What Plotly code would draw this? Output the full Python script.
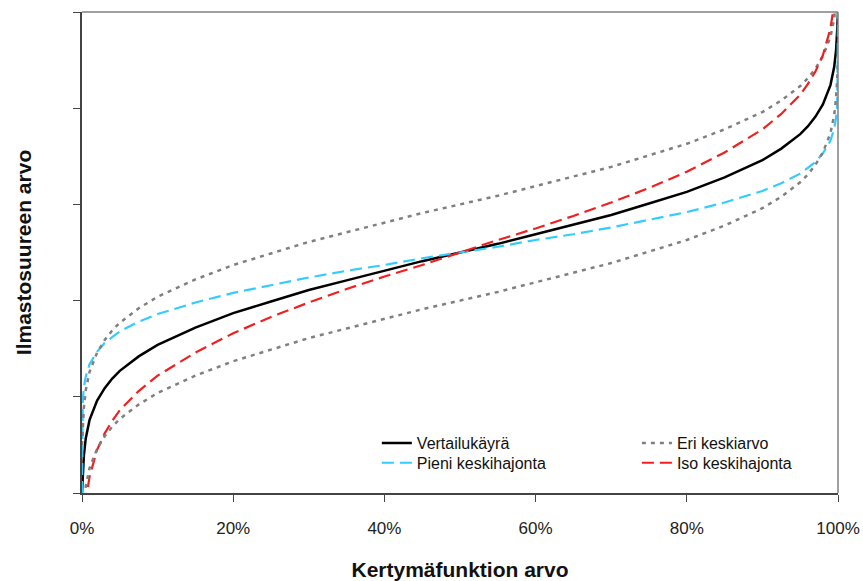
import plotly.graph_objects as go

# Cumulative probability (%) at which values were read
p = [0, 0.1, 0.25, 0.5, 1, 2, 3, 4, 5, 7.5, 10, 15, 20, 25, 30, 35, 40, 45, 50,
     55, 60, 65, 70, 75, 80, 85, 90, 92.5, 95, 96, 97, 98, 99, 99.5, 99.75, 99.9, 100]

vertailu = [0.00, 0.18, 0.39, 0.57, 0.76, 0.96, 1.09, 1.19, 1.27, 1.42, 1.54, 1.72, 1.87, 1.99,
            2.11, 2.21, 2.31, 2.41, 2.50, 2.59, 2.69, 2.79, 2.89, 3.01, 3.13, 3.28, 3.46, 3.58,
            3.73, 3.81, 3.91, 4.04, 4.24, 4.43, 4.61, 4.82, 5.00]

eri_ylempi = [0.50, 0.68, 0.89, 1.07, 1.26, 1.46, 1.59, 1.69, 1.77, 1.92, 2.04, 2.22, 2.37, 2.49,
              2.61, 2.71, 2.81, 2.91, 3.00, 3.09, 3.19, 3.29, 3.39, 3.51, 3.63, 3.78, 3.96, 4.08,
              4.23, 4.31, 4.41, 4.54, 4.74, 4.93, 5.11, 5.32, None]

eri_alempi = [None, -0.32, -0.11, 0.07, 0.26, 0.46, 0.59, 0.69, 0.77, 0.92, 1.04, 1.22, 1.37, 1.49,
              1.61, 1.71, 1.81, 1.91, 2.00, 2.09, 2.19, 2.29, 2.39, 2.51, 2.63, 2.78, 2.96, 3.08,
              3.23, 3.31, 3.41, 3.54, 3.74, 3.93, 4.11, 4.32, 4.50]

pieni = [0.00, 0.96, 1.10, 1.21, 1.34, 1.47, 1.56, 1.62, 1.68, 1.78, 1.86, 1.98, 2.08, 2.16,
         2.24, 2.31, 2.37, 2.44, 2.50, 2.56, 2.63, 2.69, 2.76, 2.84, 2.92, 3.02, 3.14, 3.22,
         3.32, 3.38, 3.44, 3.53, 3.66, 3.79, 3.90, 4.04, 5.00]

iso = [None, None, -0.31, -0.08, 0.17, 0.45, 0.62, 0.75, 0.86, 1.06, 1.22, 1.46, 1.66, 1.83,
       1.98, 2.12, 2.25, 2.37, 2.50, 2.63, 2.75, 2.88, 3.02, 3.17, 3.34, 3.54, 3.78, 3.94,
       4.14, 4.25, 4.38, 4.55, 4.83, 5.08, 5.31, None, None]

x_ticks = [0, 20, 40, 60, 80, 100]
x_tick_labels = ["0%", "20%", "40%", "60%", "80%", "100%"]
y_ticks = [0, 1, 2, 3, 4, 5]

FONT = "Arial, Liberation Sans, sans-serif"
GRAY = "#808080"
BLUE = "#33CCFF"
RED = "#F02020"

fig = go.Figure()
fig.add_trace(go.Scatter(x=p, y=vertailu, mode="lines", name="Vertailukäyrä",
                         legend="legend", line=dict(color="black", width=2.5)))
fig.add_trace(go.Scatter(x=p, y=pieni, mode="lines", name="Pieni keskihajonta",
                         legend="legend2", line=dict(color=BLUE, width=2.2, dash="12px,6px")))
fig.add_trace(go.Scatter(x=p, y=eri_ylempi, mode="lines", name="Eri keskiarvo",
                         legend="legend3", line=dict(color=GRAY, width=2.5, dash="4px,5px")))
fig.add_trace(go.Scatter(x=p, y=iso, mode="lines", name="Iso keskihajonta",
                         legend="legend4", line=dict(color=RED, width=2.2, dash="12px,6px")))
fig.add_trace(go.Scatter(x=p, y=eri_alempi, mode="lines", name="Eri keskiarvo",
                         showlegend=False, legend="legend3",
                         line=dict(color=GRAY, width=2.5, dash="4px,5px")))

legend_common = dict(orientation="v", xanchor="left", yanchor="top",
                     font=dict(family=FONT, size=16, color="#111"),
                     bgcolor="rgba(0,0,0,0)", tracegroupgap=0, traceorder="normal")

fig.update_layout(
    width=863, height=581,
    margin=dict(l=82, r=25, t=12, b=88, autoexpand=False),
    paper_bgcolor="white", plot_bgcolor="white",
    font=dict(family=FONT, size=17, color="#222"),
    showlegend=True,
    legend=dict(x=0.390, y=0.139, **legend_common),
    legend2=dict(x=0.390, y=0.098, **legend_common),
    legend3=dict(x=0.734, y=0.139, **legend_common),
    legend4=dict(x=0.734, y=0.098, **legend_common),
    xaxis=dict(range=[0, 100], tickvals=x_ticks, ticktext=x_tick_labels, automargin=False,
               showgrid=False, zeroline=False, showline=True, linecolor="#444", linewidth=1.5,
               ticks="outside", ticklen=7, tickcolor="#444", tickwidth=1.2,
               ticklabelstandoff=12,
               tickfont=dict(family=FONT, size=17, color="#222"),
               title=dict(text="<b>Kertymäfunktion arvo</b>", standoff=31,
                          font=dict(family=FONT, size=21, color="#111"))),
    yaxis=dict(range=[0, 5], tickvals=y_ticks, showticklabels=False, automargin=False,
               showgrid=False, zeroline=False, showline=True, linecolor="#444", linewidth=1.5,
               ticks="outside", ticklen=7, tickcolor="#444", tickwidth=1.2,
               title=dict(text="<b>Ilmastosuureen arvo</b>", standoff=36,
                          font=dict(family=FONT, size=21, color="#111"))),
    shapes=[
        dict(type="line", xref="paper", yref="paper", x0=0, x1=1, y0=1, y1=1,
             line=dict(color=GRAY, width=1.5)),
        dict(type="line", xref="paper", yref="paper", x0=1, x1=1, y0=0, y1=1,
             line=dict(color=GRAY, width=1.5)),
    ],
)

fig.write_html("out.html")
